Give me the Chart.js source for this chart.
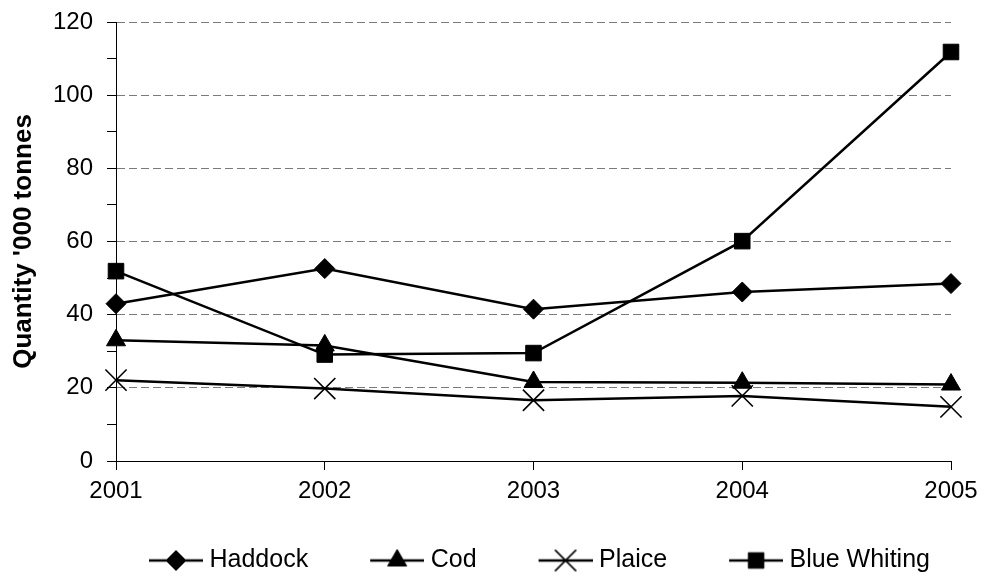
<!DOCTYPE html>
<html>
<head>
<meta charset="utf-8">
<script src="https://cdn.jsdelivr.net/npm/chart.js@4.4.0/dist/chart.umd.min.js"></script>
<style>
    html, body { margin: 0; padding: 0; background: #fff; }
</style>
</head>
<body>
<canvas id="catchChart" width="994" height="583"></canvas>
<script>
// Landings by species, '000 tonnes
var years = ['2001', '2002', '2003', '2004', '2005'];
var haddock = [43.0, 52.6, 41.5, 46.2, 48.5];
var cod = [33.0, 31.6, 21.6, 21.4, 20.9];
var plaice = [22.1, 19.8, 16.6, 17.8, 14.8];
var blueWhiting = [51.9, 29.1, 29.5, 60.1, 111.8];

var yMin = 0, yMax = 120, yMajor = 20, yMinor = 10;
var yTitle = "Quantity '000 tonnes";

Chart.defaults.font.family = "'Liberation Sans', Arial, sans-serif";
Chart.defaults.font.size = 24;
Chart.defaults.color = '#000';

// marker settings per series
var markers = [
    { style: 'rectRot', r: 10, bw: 1 },     // Haddock
    { style: 'triangle', r: 11, bw: 1 },    // Cod
    { style: 'crossRot', r: 15, bw: 1.6 },  // Plaice
    { style: 'rect', r: 11, bw: 1 }         // Blue Whiting
];

// legend glyph: a short line with the marker in the middle
function legendGlyph(m) {
    var c = document.createElement('canvas');
    c.width = 110;
    c.height = 32;
    var g = c.getContext('2d');
    g.strokeStyle = '#000';
    g.fillStyle = '#000';
    g.lineWidth = 2.5;
    g.beginPath();
    g.moveTo(56, 16);
    g.lineTo(110, 16);
    g.stroke();
    g.lineWidth = m.bw;
    Chart.helpers.drawPoint(g, { pointStyle: m.style, radius: m.r, borderWidth: m.bw, rotation: 0 }, 83, 16);
    return c;
}
var glyphs = markers.map(legendGlyph);

function series(label, data, m) {
    return {
        label: label,
        data: data,
        borderColor: '#000',
        backgroundColor: '#000',
        borderWidth: 2.5,
        pointStyle: m.style,
        pointRadius: m.r,
        pointBorderWidth: m.bw,
        pointBackgroundColor: '#000',
        pointBorderColor: '#000',
        tension: 0,
        fill: false
    };
}

// start the legend row where the original one starts
var legendStart = {
    id: 'legendStart',
    afterLayout: function (chart) {
        if (chart.legend) {
            chart.legend.left = 87;
        }
    }
};

var ctx = document.getElementById('catchChart').getContext('2d');
var chart = new Chart(ctx, {
    type: 'line',
    data: {
        labels: years,
        datasets: [
            series('Haddock', haddock, markers[0]),
            series('Cod', cod, markers[1]),
            series('Plaice', plaice, markers[2]),
            series('Blue Whiting', blueWhiting, markers[3])
        ]
    },
    plugins: [legendStart],
    options: {
        responsive: false,
        animation: false,
        layout: { padding: { top: 22, right: 43, bottom: 0, left: 0 } },
        plugins: {
            tooltip: { enabled: false },
            legend: {
                position: 'bottom',
                align: 'start',
                labels: {
                    usePointStyle: true,
                    pointStyleWidth: 98,
                    padding: 12,
                    font: { size: 25 },
                    generateLabels: function (chart) {
                        return chart.data.datasets.map(function (ds, i) {
                            return {
                                text: ds.label,
                                pointStyle: glyphs[i],
                                fillStyle: '#000',
                                strokeStyle: '#000',
                                lineWidth: 0,
                                fontColor: '#000',
                                hidden: false,
                                datasetIndex: i
                            };
                        });
                    }
                }
            }
        },
        scales: {
            x: {
                offset: false,
                grid: {
                    offset: false,
                    drawOnChartArea: false,
                    drawTicks: true,
                    tickLength: 9,
                    tickColor: '#000',
                    color: '#000'
                },
                border: { display: true, color: '#000', width: 1 },
                ticks: { padding: 7, maxRotation: 0, autoSkip: false },
                afterFit: function (scale) { scale.height = 75; }
            },
            y: {
                min: yMin,
                max: yMax,
                grid: {
                    drawTicks: true,
                    tickLength: 9,
                    tickColor: '#000',
                    tickBorderDash: [],
                    lineWidth: 1,
                    color: function (c) {
                        var v = c.tick ? c.tick.value : 0;
                        return (v !== yMin && v % yMajor === 0) ? '#7a7a7a' : 'rgba(0,0,0,0)';
                    }
                },
                border: { display: true, color: '#000', width: 1, dash: [8, 4] },
                ticks: {
                    stepSize: yMinor,
                    autoSkip: false,
                    padding: 14,
                    callback: function (v) { return v % yMajor === 0 ? v : ''; }
                },
                title: {
                    display: true,
                    text: yTitle,
                    font: { size: 26, weight: 'bold' },
                    padding: { top: 8, bottom: 4 }
                },
                afterFit: function (scale) {
                    scale.width = 116;
                    scale.paddingTop = 0;
                    scale.paddingBottom = 0;
                }
            }
        }
    }
});
</script>
</body>
</html>
